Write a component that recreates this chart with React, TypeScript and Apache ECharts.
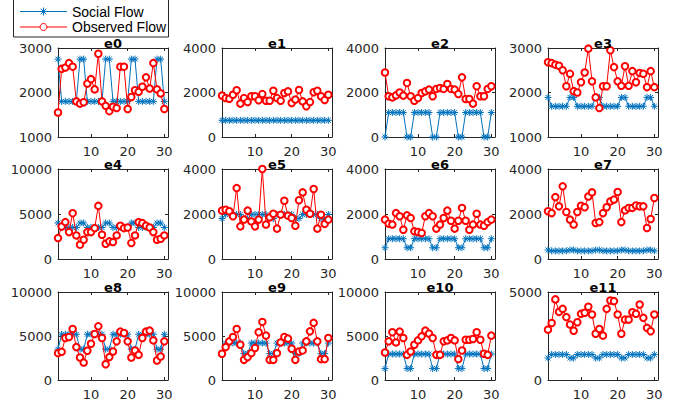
import React, { useEffect, useRef } from "react";
import * as echarts from "echarts";

const days = [1,2,3,4,5,6,7,8,9,10,11,12,13,14,15,16,17,18,19,20,21,22,23,24,25,26,27,28,29,30];
const panelTitles = ["e0","e1","e2","e3","e4","e5","e6","e7","e8","e9","e10","e11"];
const seriesNames = ["Social Flow", "Observed Flow"];
const xTickValues = [10, 20, 30];

// y axis ticks per panel
const yTicks = [
  [1000, 2000, 3000], [0, 2000, 4000], [0, 2000, 4000], [1000, 2000, 3000],
  [0, 5000, 10000], [0, 2000, 4000], [0, 2000, 4000], [0, 2000, 4000],
  [0, 5000, 10000], [0, 5000, 10000], [0, 5000, 10000], [0, 5000],
];

const social0 = [2750,1800,1800,1800,1800,1800,2750,2750,1800,1800,1800,1800,1800,2750,2750,1800,1800,1800,1800,1800,2750,2750,1800,1800,1800,1800,1800,2750,2750,1800];
const social1 = [750,750,750,750,750,750,750,750,750,750,750,750,750,750,750,750,750,750,750,750,750,750,750,750,750,750,750,750,750,750];
const social2 = [0,1100,1100,1100,1100,1100,0,0,1100,1100,1100,1100,1100,0,0,1100,1100,1100,1100,1100,0,0,1100,1100,1100,1100,1100,0,0,1100];
const social3 = [1890,1690,1690,1690,1690,1690,1890,1890,1690,1690,1690,1690,1690,1890,1890,1690,1690,1690,1690,1690,1890,1890,1690,1690,1690,1690,1690,1890,1890,1690];
const social4 = [4000,3500,3500,3500,3500,3500,4000,4000,3500,3500,3500,3500,3500,4000,4000,3500,3500,3500,3500,3500,4000,4000,3500,3500,3500,3500,3500,4000,4000,3500];
const social5 = [1800,1980,1980,1980,1980,1980,1800,1800,1980,1980,1980,1980,1980,1800,1800,1980,1980,1980,1980,1980,1800,1800,1980,1980,1980,1980,1980,1800,1800,1980];
const social6 = [500,900,900,900,900,900,500,500,900,900,900,900,900,500,500,900,900,900,900,900,500,500,900,900,900,900,900,500,500,900];
const social7 = [400,360,360,360,360,360,400,400,360,360,360,360,360,400,400,360,360,360,360,360,400,400,360,360,360,360,360,400,400,360];
const social8 = [3500,5200,5200,5200,5200,5200,3500,3500,5200,5200,5200,5200,5200,3500,3500,5200,5200,5200,5200,5200,3500,3500,5200,5200,5200,5200,5200,3500,3500,5200];
const social9 = [3000,4200,4200,4200,4200,4200,3000,3000,4200,4200,4200,4200,4200,3000,3000,4200,4200,4200,4200,4200,3000,3000,4200,4200,4200,4200,4200,3000,3000,4200];
const social10 = [1300,2950,2950,2950,2950,2950,1300,1300,2950,2950,2950,2950,2950,1300,1300,2950,2950,2950,2950,2950,1300,1300,2950,2950,2950,2950,2950,1300,1300,2950];
const social11 = [1250,1450,1450,1450,1450,1450,1250,1250,1450,1450,1450,1450,1450,1250,1250,1450,1450,1450,1450,1450,1250,1250,1450,1450,1450,1450,1450,1250,1250,1450];

const observed0 = [1550,2530,2560,2660,2580,1800,1750,1780,2200,2300,2070,2870,1800,1700,1580,1680,1650,2580,2580,1630,1900,2050,2015,2130,2340,2090,2660,2070,1980,1630];
const observed1 = [1860,1750,1720,1900,2100,1500,1750,1570,1830,1830,1650,1930,1630,1630,2080,1750,1630,1980,2050,1530,1680,2110,1600,1380,1570,2010,2080,1830,1660,1900];
const observed2 = [2900,1830,1780,1870,2000,1860,2430,1830,1630,1750,1980,2050,2130,1830,2160,2200,2160,2380,2160,2130,1930,2680,1710,1710,1500,2280,1830,1830,2160,2280];
const observed3 = [2680,2660,2625,2600,2500,2140,2420,2030,2000,2230,2450,2985,2250,1890,1650,2140,2140,2950,2570,2250,2150,2590,2150,2480,2230,2440,2420,2120,2480,2120];
const observed4 = [2325,3616,4100,2990,5090,2620,1590,2140,2990,2990,3430,5900,2690,1700,1960,1880,2620,3690,3430,3500,1770,2620,4100,3985,3690,3500,2990,2140,2250,2620];
const observed5 = [2150,2190,2120,1900,3150,1450,1750,2150,1670,1450,1750,4000,1530,1850,2010,1350,1970,2590,1925,1820,1480,2610,2960,2190,2010,3110,1350,1970,1560,1750];
const observed6 = [1750,1570,1530,2040,1900,1300,1940,1820,1230,1200,1155,1900,2040,1900,1350,1530,1820,2150,1700,1350,1700,2270,1700,1300,1530,2010,1530,1480,1640,1750];
const observed7 = [2120,2040,2750,2340,3230,2090,1750,1530,2090,2370,2300,2780,2960,1600,1640,2040,2300,2560,2640,2980,1640,2160,2270,2270,2380,2340,2340,1380,1780,2710];
const observed8 = [3050,3200,4770,4890,5800,3740,2560,1980,3320,4120,5230,6100,4770,1790,2600,3240,4390,5500,5340,4390,2560,3360,2860,4770,5500,5610,4500,2210,2670,4390];
const observed9 = [2980,3740,4390,4890,5800,4010,2290,2600,3050,3630,5420,6600,5040,2290,2290,3050,4270,4890,4700,3550,2290,3240,3360,4390,5530,6490,4390,2370,2370,4770];
const observed10 = [3130,4390,5420,4270,5500,4770,2860,3240,4010,4500,4960,5610,5270,4770,2860,2860,4390,4500,4770,4500,2370,3360,4580,4580,4660,5420,4580,2980,2860,5040];
const observed11 = [2860,3240,4580,3870,4040,3570,3150,2800,3280,3760,3820,4160,3720,2630,2900,2520,4040,4520,4480,3720,2630,3430,3430,3850,3760,4290,3530,2960,2770,3720];

const socialSeries = [social0, social1, social2, social3, social4, social5, social6, social7, social8, social9, social10, social11];
const observedSeries = [observed0, observed1, observed2, observed3, observed4, observed5, observed6, observed7, observed8, observed9, observed10, observed11];

const BLUE = "#0072BD";
const RED = "#FF0000";
const AXIS = "#262626";
const TICK_FONT = "DejaVu Sans";

const COL_LEFT = [58, 222, 385, 548];
const ROW_TOP = [48, 169, 292];
const ROW_H = [89, 90, 88];
const PANEL_W = 110;

const ASTERISK = "path://M5,0L5,10M0,5L10,5M1.5,1.5L8.5,8.5M1.5,8.5L8.5,1.5";

function legendGraphic(): any[] {
  const els: any[] = [];
  els.push({
    type: "rect", z: 20,
    shape: { x: 13.5, y: -2.5, width: 155, height: 39.5 },
    style: { fill: "#ffffff", stroke: AXIS, lineWidth: 1 },
  });
  const rows = [11.5, 27];
  const colors = [BLUE, RED];
  rows.forEach((cy, i) => {
    els.push({
      type: "line", z: 21,
      shape: { x1: 20, y1: cy, x2: 67, y2: cy },
      style: { stroke: colors[i], lineWidth: 1 },
    });
    const cx = 43.5;
    if (i === 0) {
      const r = 4;
      const d = 2.8;
      const segs = [
        [cx, cy - r, cx, cy + r], [cx - r, cy, cx + r, cy],
        [cx - d, cy - d, cx + d, cy + d], [cx - d, cy + d, cx + d, cy - d],
      ];
      segs.forEach((s) => els.push({
        type: "line", z: 22,
        shape: { x1: s[0], y1: s[1], x2: s[2], y2: s[3] },
        style: { stroke: BLUE, lineWidth: 1 },
      }));
    } else {
      els.push({
        type: "circle", z: 22,
        shape: { cx, cy, r: 3.5 },
        style: { fill: "#ffffff", stroke: RED, lineWidth: 1 },
      });
    }
    els.push({
      type: "text", z: 22, x: 72, y: cy,
      style: {
        text: seriesNames[i], align: "left", verticalAlign: "middle",
        font: "14px 'Liberation Sans'", fill: "#000",
      },
    });
  });
  return els;
}

function buildOption() {
  const grid: any[] = [];
  const xAxis: any[] = [];
  const yAxis: any[] = [];
  const series: any[] = [];
  const graphic: any[] = [];
  const fmt = (v: number) => String(v);

  panelTitles.forEach((title, k) => {
    const col = k % 4;
    const row = Math.floor(k / 4);
    const left = COL_LEFT[col];
    const top = ROW_TOP[row];
    const h = ROW_H[row];
    grid.push({ left, top, width: PANEL_W, height: h, containLabel: false });

    const ticks = yTicks[k];
    const ymin = ticks[0];
    const ymax = ticks[ticks.length - 1];
    const interval = ticks[1] - ticks[0];
    const lineStyle = { color: AXIS, width: 1 };

    xAxis.push({
      gridIndex: k, type: "value", position: "bottom", min: 1, max: 31,
      axisLine: { show: true, onZero: false, lineStyle },
      axisTick: { show: true, inside: true, length: 3, customValues: xTickValues, lineStyle },
      axisLabel: { show: true, customValues: xTickValues, formatter: fmt, fontFamily: TICK_FONT, fontSize: 13, color: AXIS, margin: 8 },
      splitLine: { show: false },
    });
    xAxis.push({
      gridIndex: k, type: "value", position: "top", min: 1, max: 31,
      axisLine: { show: true, onZero: false, lineStyle },
      axisTick: { show: true, inside: true, length: 3, customValues: xTickValues, lineStyle },
      axisLabel: { show: false },
      splitLine: { show: false },
    });
    yAxis.push({
      gridIndex: k, type: "value", position: "left", min: ymin, max: ymax, interval,
      axisLine: { show: true, onZero: false, lineStyle },
      axisTick: { show: true, inside: true, length: 3, lineStyle },
      axisLabel: { show: true, formatter: fmt, fontFamily: TICK_FONT, fontSize: 13, color: AXIS, margin: 6 },
      splitLine: { show: false },
    });
    yAxis.push({
      gridIndex: k, type: "value", position: "right", min: ymin, max: ymax, interval,
      axisLine: { show: true, onZero: false, lineStyle },
      axisTick: { show: true, inside: true, length: 3, lineStyle },
      axisLabel: { show: false },
      splitLine: { show: false },
    });

    series.push({
      type: "line", name: seriesNames[0], xAxisIndex: 2 * k, yAxisIndex: 2 * k,
      data: days.map((d, i) => [d, socialSeries[k][i]]),
      symbol: ASTERISK, symbolSize: 7, showAllSymbol: true,
      lineStyle: { color: BLUE, width: 1 },
      itemStyle: { color: BLUE, borderColor: BLUE, borderWidth: 1 },
      z: 2,
    });
    series.push({
      type: "line", name: seriesNames[1], xAxisIndex: 2 * k, yAxisIndex: 2 * k,
      data: days.map((d, i) => [d, observedSeries[k][i]]),
      symbol: "emptyCircle", symbolSize: 6.5, showAllSymbol: true,
      lineStyle: { color: RED, width: 1 },
      itemStyle: { color: RED, borderColor: RED, borderWidth: 1 },
      z: 3,
    });

    graphic.push({
      type: "text",
      x: left + PANEL_W / 2,
      y: top - 5,
      style: {
        text: title, align: "center", verticalAlign: "middle",
        font: "bold 13px 'DejaVu Sans'", fill: "#000",
      },
      z: 10,
    });
  });

  legendGraphic().forEach((g) => graphic.push(g));

  return {
    animation: false,
    backgroundColor: "#ffffff",
    grid, xAxis, yAxis, series, graphic,
  };
}

export default function App() {
  const ref = useRef<HTMLDivElement>(null);
  useEffect(() => {
    if (!ref.current) return;
    const chart = echarts.init(ref.current, undefined, { renderer: "svg" });
    chart.setOption(buildOption() as any);
    return () => chart.dispose();
  }, []);
  return (
    <div
      ref={ref}
      style={{ position: "absolute", left: 0, top: 0, width: 673, height: 407, background: "#fff" }}
    />
  );
}
